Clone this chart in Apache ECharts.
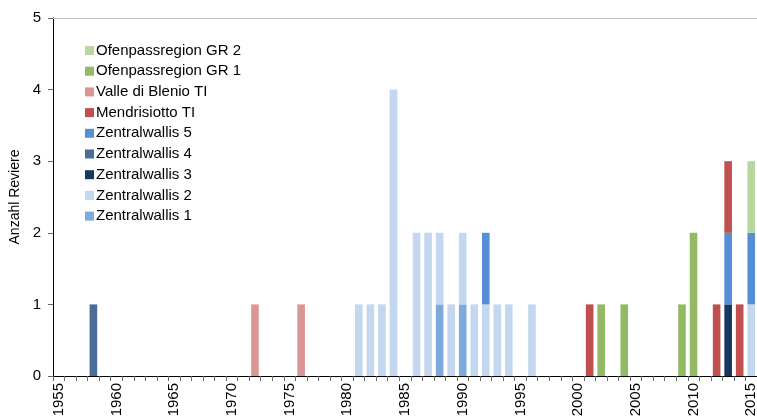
<!DOCTYPE html>
<html>
<head>
<meta charset="utf-8">
<script src="https://cdn.jsdelivr.net/npm/echarts@6/dist/echarts.min.js"></script>
<style>html,body{margin:0;padding:0;background:#fff}#c{width:757px;height:418px}</style>
</head>
<body>
<div id="c"></div>
<script>
var years = [];
for (var y = 1955; y <= 2015; y++) years.push(String(y));

// [year, count] pairs per series (bottom of stack first)
var zentralwallis1 = [[1988,1],[1990,1]];
var zentralwallis2 = [[1981,1],[1982,1],[1983,1],[1984,4],[1986,2],[1987,2],[1988,1],[1989,1],[1990,1],[1991,1],[1992,1],[1993,1],[1994,1],[1996,1],[2015,1]];
var zentralwallis3 = [[2013,1]];
var zentralwallis4 = [[1958,1]];
var zentralwallis5 = [[1992,1],[2013,1],[2015,1]];
var mendrisiotto = [[2001,1],[2012,1],[2013,1],[2014,1]];
var valleDiBlenio = [[1972,1],[1976,1]];
var ofenpass1 = [[2002,1],[2004,1],[2009,1],[2010,2]];
var ofenpass2 = [[2015,1]];

var yTicks = [0,1,2,3,4,5];

var seriesDefs = [
  ['Zentralwallis 1', zentralwallis1, '#7eaadb'],
  ['Zentralwallis 2', zentralwallis2, '#c3d7ef'],
  ['Zentralwallis 3', zentralwallis3, '#17375e'],
  ['Zentralwallis 4', zentralwallis4, '#4a6c99'],
  ['Zentralwallis 5', zentralwallis5, '#558ed5'],
  ['Mendrisiotto TI', mendrisiotto, '#c0504d'],
  ['Valle di Blenio TI', valleDiBlenio, '#d99694'],
  ['Ofenpassregion GR 1', ofenpass1, '#93b965'],
  ['Ofenpassregion GR 2', ofenpass2, '#b8d69e']
];

function toData(pairs) {
  var m = {};
  pairs.forEach(function (p) { m[String(p[0])] = p[1]; });
  return years.map(function (yr) { return m[yr] !== undefined ? m[yr] : 0; });
}

var series = seriesDefs.map(function (d) {
  return {
    name: d[0], type: 'bar', stack: 'all', barWidth: '66%',
    itemStyle: { color: d[2] },
    data: toData(d[1]),
    xAxisIndex: 0
  };
});

var chart = echarts.init(document.getElementById('c'));
chart.setOption({
  animation: false,
  textStyle: { fontFamily: 'Liberation Sans, Arial, sans-serif' },
  grid: { left: 53, right: 0, top: 18, bottom: 42, containLabel: false, outerBoundsMode: 'none' },
  legend: {
    orient: 'vertical', left: 85, top: 43, padding: 0,
    itemWidth: 9, itemHeight: 9, itemGap: 5.7,
    icon: 'rect',
    textStyle: { fontSize: 15, color: '#000', lineHeight: 15, padding: [0,0,0,-3] },
    data: ['Ofenpassregion GR 2','Ofenpassregion GR 1','Valle di Blenio TI','Mendrisiotto TI','Zentralwallis 5','Zentralwallis 4','Zentralwallis 3','Zentralwallis 2','Zentralwallis 1']
  },
  xAxis: [{
    type: 'category', data: years, boundaryGap: true,
    axisLine: { lineStyle: { color: '#000', width: 1 } },
    axisTick: { show: true, interval: 0, alignWithLabel: false, length: 5, lineStyle: { color: '#666' } },
    axisLabel: { interval: 4, rotate: 90, fontSize: 15, color: '#000', margin: 7 },
    splitLine: { show: false }
  }, {
    type: 'category', data: years, position: 'top',
    axisLine: { show: true, lineStyle: { color: '#bfbfbf' } },
    axisTick: { show: false }, axisLabel: { show: false }
  }],
  yAxis: {
    type: 'value', min: yTicks[0], max: yTicks[yTicks.length-1], interval: 1,
    name: 'Anzahl Reviere', nameLocation: 'middle', nameGap: 31, nameRotate: 90,
    nameTextStyle: { fontSize: 14, color: '#000' },
    axisLine: { show: true, lineStyle: { color: '#000', width: 1 } },
    axisTick: { show: true, length: 5, lineStyle: { color: '#666' } },
    axisLabel: { fontSize: 15, color: '#000', margin: 12 },
    splitLine: { show: false }
  },
  series: series
});
</script>
</body>
</html>
